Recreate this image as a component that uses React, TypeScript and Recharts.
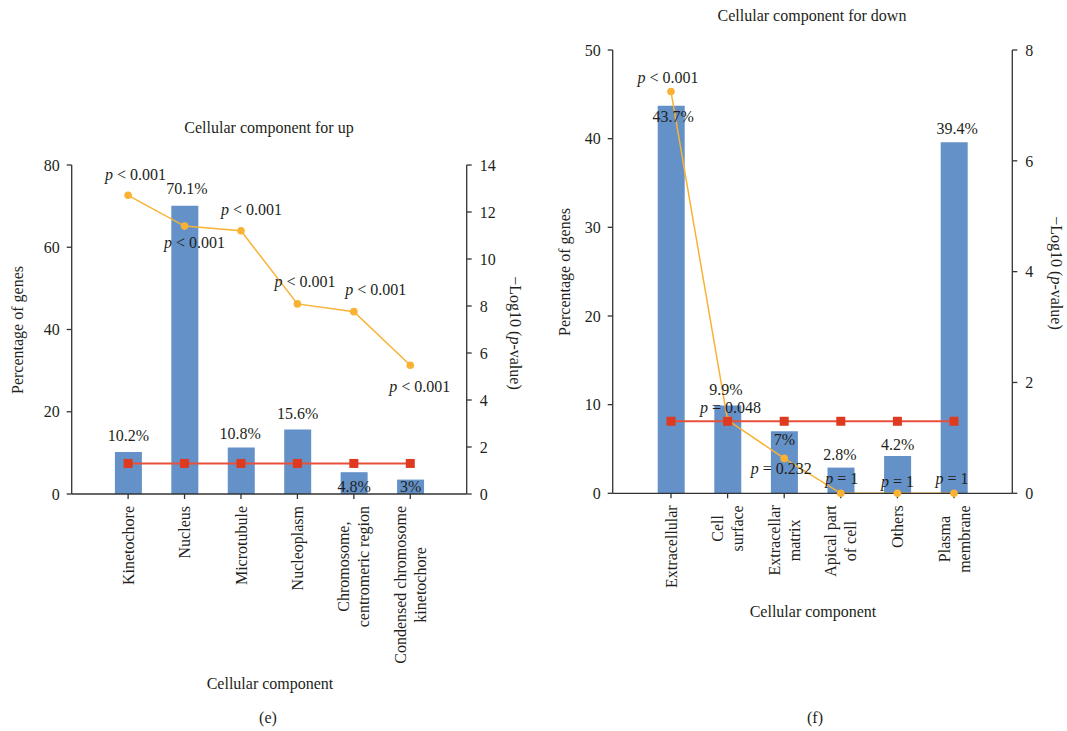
import React from "react";
import { ComposedChart, Bar, Line, XAxis, YAxis, LabelList } from "recharts";

// ---------- data: panel (e) ----------
const upCategories = [
  "Kinetochore",
  "Nucleus",
  "Microtubule",
  "Nucleoplasm",
  "Chromosome,\ncentromeric region",
  "Condensed chromosome\nkinetochore",
];
const upPercent = [10.2, 70.1, 11.3, 15.7, 5.3, 3.5];
const upPercentLabels = ["10.2%", "70.1%", "10.8%", "15.6%", "4.8%", "3%"];
const upLogP = [12.71, 11.4, 11.2, 8.09, 7.76, 5.48];
const upPLabels = ["< 0.001", "< 0.001", "< 0.001", "< 0.001", "< 0.001", "< 0.001"];
const upThreshold = [1.3, 1.3, 1.3, 1.3, 1.3, 1.3];
const upLeftTicks = [0, 20, 40, 60, 80];
const upRightTicks = [0, 2, 4, 6, 8, 10, 12, 14];

// ---------- data: panel (f) ----------
const downCategories = [
  "Extracellular",
  "Cell\nsurface",
  "Extracellar\nmatrix",
  "Apical part\nof cell",
  "Others",
  "Plasma\nmembrane",
];
const downPercent = [43.7, 9.9, 7.0, 2.9, 4.2, 39.6];
const downPercentLabels = ["43.7%", "9.9%", "7%", "2.8%", "4.2%", "39.4%"];
const downLogP = [7.25, 1.32, 0.63, 0, 0, 0];
const downPLabels = ["< 0.001", "= 0.048", "= 0.232", "= 1", "= 1", "= 1"];
const downThreshold = [1.3, 1.3, 1.3, 1.3, 1.3, 1.3];
const downLeftTicks = [0, 10, 20, 30, 40, 50];
const downRightTicks = [0, 2, 4, 6, 8];

const upData = upCategories.map((name, i) => ({
  name,
  pct: upPercent[i],
  logp: upLogP[i],
  thr: upThreshold[i],
}));
const downData = downCategories.map((name, i) => ({
  name,
  pct: downPercent[i],
  logp: downLogP[i],
  thr: downThreshold[i],
}));

// ---------- styling ----------
const FONT = "'Liberation Serif', 'Times New Roman', serif";
const FS = 16;
const TXT = "#231f20";
const AX = "#333333";
const BLUE = "#6391C8";
const ORANGE = "#F9B233";
const RED_LINE = "#E8503A";
const RED_DOT = "#DE3A1F";

let ctx: CanvasRenderingContext2D | null = null;
function measure(t: string): number {
  try {
    if (!ctx) {
      const c = document.createElement("canvas");
      ctx = c.getContext("2d");
    }
    if (ctx) {
      ctx.font = `${FS}px 'Liberation Serif'`;
      return ctx.measureText(t).width;
    }
  } catch (e) {}
  return t.length * 7.4;
}

const XTick = (props: any) => {
  const { x, y, payload } = props;
  const lines = String(payload.value).split("\n");
  const maxW = Math.max(...lines.map(measure));
  const n = lines.length;
  return (
    <g>
      {lines.map((ln, i) => {
        const off = (i - (n - 1) / 2) * 20;
        return (
          <text
            key={i}
            transform={`translate(${x + off},${y + maxW / 2}) rotate(-90)`}
            textAnchor="middle"
            dy="0.35em"
            fontFamily={FONT}
            fontSize={FS}
            fill={TXT}
          >
            {ln}
          </text>
        );
      })}
    </g>
  );
};

const PText = ({ x, y, rest }: { x: number; y: number; rest: string }) => (
  <text x={x} y={y} dy="0.35em" textAnchor="middle" fontFamily={FONT} fontSize={FS} fill={TXT}>
    <tspan fontStyle="italic">p</tspan>
    <tspan>{" " + rest}</tspan>
  </text>
);

// label placement (styling only)
const upBarLabelPlace = [
  { dx: 0, dy: -17, from: "top" },
  { dx: 2, dy: -17, from: "top" },
  { dx: -1, dy: -14, from: "top" },
  { dx: 0, dy: -16, from: "top" },
  { dx: 0, dy: -8, from: "bottom" },
  { dx: 0, dy: -8, from: "bottom" },
];
const upPPlace = [
  { dx: 7.5, dy: -21 },
  { dx: 10, dy: 16 },
  { dx: 10.5, dy: -21 },
  { dx: 7.5, dy: -22 },
  { dx: 22, dy: -22 },
  { dx: 9.5, dy: 21 },
];
const downBarLabelPlace = [
  { dx: 2, dy: 11, from: "top" },
  { dx: -2, dy: -16, from: "top" },
  { dx: 0, dy: 8, from: "top" },
  { dx: -1, dy: -13, from: "top" },
  { dx: 0, dy: -12, from: "top" },
  { dx: 3, dy: -14, from: "top" },
];
const downPPlace = [
  { dx: -3, dy: -14 },
  { dx: 3, dy: -13 },
  { dx: -3, dy: 10 },
  { dx: 1, dy: -15 },
  { dx: 0, dy: -12 },
  { dx: -2, dy: -15 },
];

const makeBarLabel = (labels: string[], place: any[]) => (props: any) => {
  const { x, y, width, height, index } = props;
  const p = place[index];
  if (!p) return null;
  const cx = Number(x) + Number(width) / 2 + p.dx;
  const base = p.from === "top" ? Number(y) : Number(y) + Number(height);
  return (
    <text
      x={cx}
      y={base + p.dy}
      dy="0.35em"
      textAnchor="middle"
      fontFamily={FONT}
      fontSize={FS}
      fill={TXT}
    >
      {labels[index]}
    </text>
  );
};

const makePLabel = (labels: string[], place: any[]) => (props: any) => {
  const { x, y, index } = props;
  const p = place[index];
  if (!p) return null;
  return <PText x={Number(x) + p.dx} y={Number(y) + p.dy} rest={labels[index]} />;
};

const SquareDot = (props: any) => {
  const { cx, cy, index } = props;
  if (cx == null || cy == null) return <g key={index} />;
  return <rect key={index} x={cx - 4.5} y={cy - 4.5} width={9} height={9} fill={RED_DOT} />;
};

const tickStyle = { fontFamily: FONT, fontSize: FS, fill: TXT };

function Panel(props: {
  data: any[];
  width: number;
  margin: any;
  pad: number;
  barSize: number;
  leftTicks: number[];
  rightTicks: number[];
  barLabel: any;
  pLabel: any;
}) {
  const { data, width, margin, pad, barSize, leftTicks, rightTicks, barLabel, pLabel } = props;
  return (
    <ComposedChart width={width} height={731} data={data} margin={margin}>
      <XAxis
        dataKey="name"
        type="category"
        interval={0}
        height={150}
        tickSize={5}
        tickMargin={7}
        padding={{ left: pad, right: pad }}
        axisLine={{ stroke: AX, strokeWidth: 1.3 }}
        tickLine={{ stroke: AX, strokeWidth: 1.3 }}
        tick={<XTick />}
      />
      <YAxis
        yAxisId="left"
        width={50}
        domain={[leftTicks[0], leftTicks[leftTicks.length - 1]]}
        ticks={leftTicks}
        interval={0}
        tickSize={5}
        tickMargin={7}
        axisLine={{ stroke: AX, strokeWidth: 1.3 }}
        tickLine={{ stroke: AX, strokeWidth: 1.3 }}
        tick={tickStyle}
      />
      <YAxis
        yAxisId="right"
        orientation="right"
        width={50}
        domain={[rightTicks[0], rightTicks[rightTicks.length - 1]]}
        ticks={rightTicks}
        interval={0}
        tickSize={5}
        tickMargin={8}
        axisLine={{ stroke: AX, strokeWidth: 1.3 }}
        tickLine={{ stroke: AX, strokeWidth: 1.3 }}
        tick={tickStyle}
      />
      <Bar yAxisId="left" dataKey="pct" fill={BLUE} barSize={barSize} isAnimationActive={false}>
        <LabelList dataKey="pct" content={barLabel} />
      </Bar>
      <Line
        yAxisId="right"
        type="linear"
        dataKey="logp"
        stroke={ORANGE}
        strokeWidth={1.5}
        dot={{ r: 3.8, fill: ORANGE, stroke: ORANGE, strokeWidth: 0 }}
        activeDot={false}
        isAnimationActive={false}
      >
        <LabelList dataKey="logp" content={pLabel} />
      </Line>
      <Line
        yAxisId="right"
        type="linear"
        dataKey="thr"
        stroke={RED_LINE}
        strokeWidth={2}
        dot={SquareDot}
        activeDot={false}
        isAnimationActive={false}
      />
    </ComposedChart>
  );
}

const T = (p: any) => (
  <text
    x={p.x}
    y={p.y}
    dy="0.35em"
    textAnchor="middle"
    fontFamily={FONT}
    fontSize={FS}
    fill={TXT}
    transform={p.rot ? `rotate(${p.rot} ${p.x} ${p.y})` : undefined}
  >
    {p.children}
  </text>
);

export default function App() {
  return (
    <div
      style={{
        position: "absolute",
        left: 0,
        top: 0,
        width: 1067,
        height: 731,
        background: "#fff",
        overflow: "hidden",
      }}
    >
      <div style={{ position: "absolute", left: 0, top: 0 }}>
        <Panel
          data={upData}
          width={540}
          margin={{ top: 165, right: 23.3, bottom: 87, left: 21.7 }}
          pad={28.2}
          barSize={27}
          leftTicks={upLeftTicks}
          rightTicks={upRightTicks}
          barLabel={makeBarLabel(upPercentLabels, upBarLabelPlace)}
          pLabel={makePLabel(upPLabels, upPPlace)}
        />
      </div>
      <div style={{ position: "absolute", left: 540, top: 0 }}>
        <Panel
          data={downData}
          width={527}
          margin={{ top: 50, right: 4.7, bottom: 87.7, left: 22.7 }}
          pad={30}
          barSize={27}
          leftTicks={downLeftTicks}
          rightTicks={downRightTicks}
          barLabel={makeBarLabel(downPercentLabels, downBarLabelPlace)}
          pLabel={makePLabel(downPLabels, downPPlace)}
        />
      </div>
      <svg
        width={1067}
        height={731}
        style={{ position: "absolute", left: 0, top: 0, pointerEvents: "none" }}
      >
        <T x={269} y={127}>Cellular component for up</T>
        <T x={812} y={15}>Cellular component for down</T>
        <T x={17} y={330} rot={-90}>Percentage of genes</T>
        <T x={516} y={333} rot={90}>
          {"\u2212Log10 ("}
          <tspan fontStyle="italic">p</tspan>
          {"-value)"}
        </T>
        <T x={564} y={272} rot={-90}>Percentage of genes</T>
        <T x={1057} y={273} rot={90}>
          {"\u2212Log10 ("}
          <tspan fontStyle="italic">p</tspan>
          {"-value)"}
        </T>
        <T x={270} y={683}>Cellular component</T>
        <T x={813} y={611}>Cellular component</T>
        <T x={268} y={717}>(e)</T>
        <T x={815} y={717}>(f)</T>
      </svg>
    </div>
  );
}
